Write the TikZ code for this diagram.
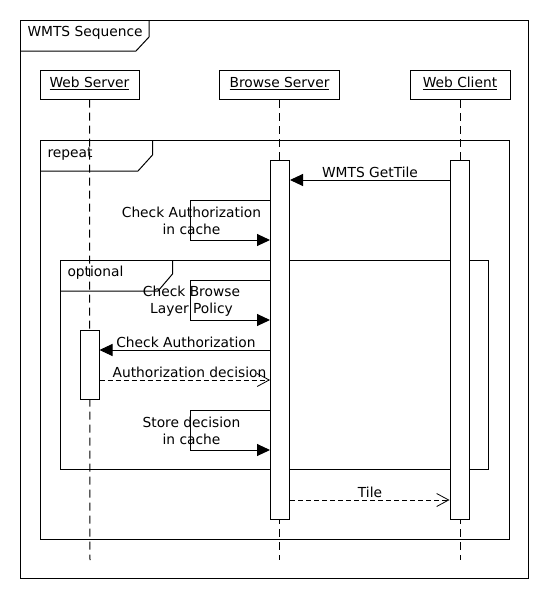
\documentclass[tikz,border=0pt]{standalone}
\usepackage{fontspec}
\setmainfont{DejaVu Sans}
\usetikzlibrary{arrows.meta}
\begin{document}
\begin{tikzpicture}[x=1pt,y=-1pt,line width=1pt,
  every node/.style={font=\fontsize{13.8}{17}\selectfont,inner sep=0pt},
  part/.style={draw,fill=white,minimum height=29pt},
  act/.style={draw,fill=white,minimum width=19pt},
  life/.style={dash pattern=on 8pt off 5pt},
  sync/.style={-{Triangle[length=13pt,width=12pt]}},
  reply/.style={dash pattern=on 5pt off 3pt,-{Straight Barb[length=12pt,width=13pt,line width=0.8pt]}},
  lbl/.style={align=center}]
\useasboundingbox (0,0) rectangle (550,600);
\fill[white] (0,0) rectangle (550,600);
% participants
\node[part,minimum width=99pt] (ws) at (89.5,84.5) {};
\node (wst) at (89.5,83) {\underline{Web Server}};
\node[part,minimum width=120pt] (bs) at (279.5,85) {};
\node (bst) at (279.5,83.5) {\underline{Browse Server}};
\node[part,minimum width=100pt] (wc) at (460,85) {};
\node (wct) at (460,83.5) {\underline{Web Client}};
\coordinate (wsE) at (90,560);
\coordinate (bsE) at (280,560);
\coordinate (wcE) at (460,560);
\draw[life] (ws.south) -- (wsE);
\draw[life] (bs.south) -- (bs.south |- bsE);
\draw[life] (wc.south) -- (wc.south |- wcE);
% frames
\draw (20,20) rectangle (528.5,578.5);
\draw (20,51) -- (136,51) -- (149,37) -- (149,20);
\node[anchor=west] (fsd) at (27,33) {WMTS Sequence};
\draw (40.5,140) rectangle (509.5,539.5);
\draw (40.5,171) -- (138,171) -- (152.5,155) -- (152.5,140);
\node[anchor=west] (frep) at (47,154) {repeat};
\draw (60.5,260.5) rectangle (488.5,469);
\draw (60.5,291) -- (158,291) -- (172.5,274) -- (172.5,260.5);
\node[anchor=west] (fopt) at (67,272.5) {optional};
% activations
\node[act,minimum height=359pt] (bsA) at (280,339.5) {};
\node[act,minimum height=359pt] (wcA) at (459.5,339.5) {};
\node[act,minimum height=69pt] (wsA) at (89.5,364.5) {};
% messages
\coordinate (m1) at (0,180);
\draw[sync] (wcA.west |- m1) -- (bsA.east |- m1);
\node (l1) at (370,172.5) {WMTS GetTile};
\coordinate (s1a) at (190,200);
\coordinate (s1b) at (190,240);
\draw[sync] (bsA.west |- s1a) -- (s1a) -- (s1b) -- (bsA.west |- s1b);
\node[lbl] (l2) at (191.5,220.5) {Check Authorization\\in cache};
\coordinate (s2a) at (190,280);
\coordinate (s2b) at (190,320);
\draw[sync] (bsA.west |- s2a) -- (s2a) -- (s2b) -- (bsA.west |- s2b);
\node[lbl] (l3) at (191.5,301) {Check Browse\\Layer Policy};
\coordinate (m4) at (0,350);
\draw[sync] (bsA.west |- m4) -- (wsA.east |- m4);
\node (l4) at (186,342.5) {Check Authorization};
\coordinate (m5) at (0,380);
\draw[reply] (wsA.east |- m5) -- (bsA.west |- m5);
\node (l5) at (189.5,372.5) {Authorization decision};
\coordinate (s3a) at (190,410);
\coordinate (s3b) at (190,450);
\draw[sync] (bsA.west |- s3a) -- (s3a) -- (s3b) -- (bsA.west |- s3b);
\node[lbl] (l6) at (191.5,431) {Store decision\\in cache};
\coordinate (m7) at (0,500);
\draw[reply] (bsA.east |- m7) -- (wcA.west |- m7);
\node (l7) at (370,492.5) {Tile};
\end{tikzpicture}
\end{document}
